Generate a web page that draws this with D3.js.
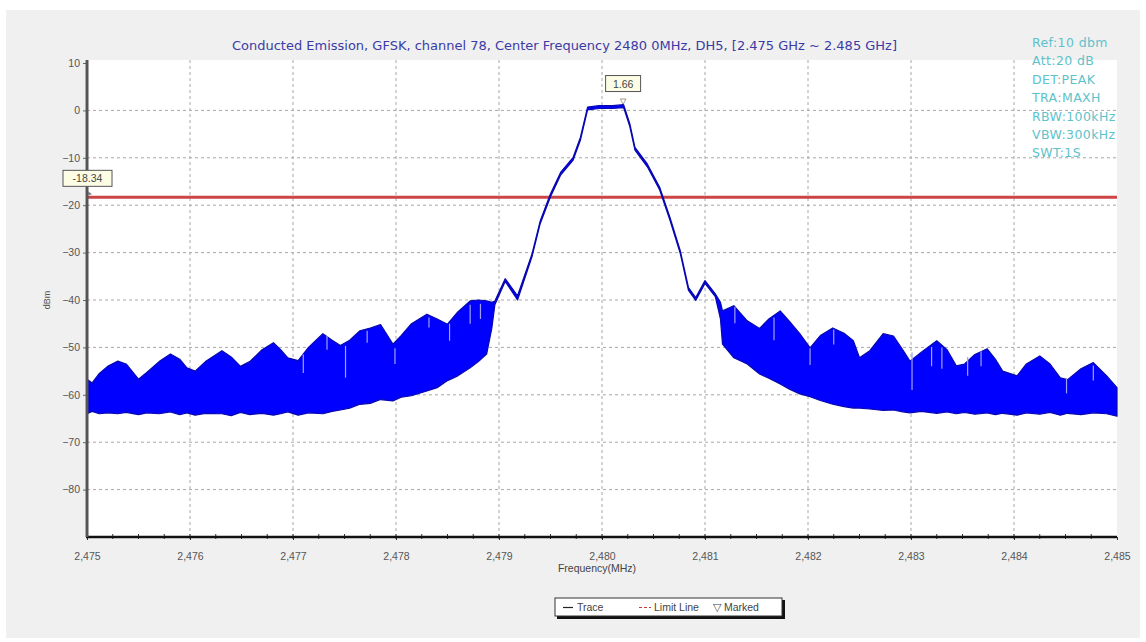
<!DOCTYPE html>
<html>
<head>
<meta charset="utf-8">
<script src="https://cdn.jsdelivr.net/npm/d3@7/dist/d3.min.js"></script>
<style>
  html, body { margin: 0; padding: 0; background: #fff; }
  svg { display: block; font-family: "Liberation Sans", Arial, sans-serif; }
</style>
</head>
<body>
<svg id="chart" width="1146" height="642"></svg>
<script>
// ---- data ----
const title = "Conducted Emission, GFSK, channel 78, Center Frequency 2480 0MHz, DH5, [2.475 GHz ~ 2.485 GHz]";
const infoLines = ["Ref:10 dbm", "Att:20 dB", "DET:PEAK", "TRA:MAXH", "RBW:100kHz", "VBW:300kHz", "SWT:1S"];
const xTicks = [2475, 2476, 2477, 2478, 2479, 2480, 2481, 2482, 2483, 2484, 2485];
const yTicks = [10, 0, -10, -20, -30, -40, -50, -60, -70, -80];

const limitValue = -18.34;
const markerFreq = 2480.2;
const markerValue = 1.66;

// trace envelope (MHz, upper dBm, lower dBm)
const traceFreq = [
  2475.00, 2475.05, 2475.12, 2475.20, 2475.30, 2475.38, 2475.50, 2475.58, 2475.70, 2475.81,
  2475.90, 2475.97, 2476.05, 2476.15, 2476.31, 2476.40, 2476.49, 2476.58, 2476.70, 2476.81,
  2476.88, 2476.95, 2477.05, 2477.15, 2477.29, 2477.38, 2477.46, 2477.55, 2477.65, 2477.75,
  2477.85, 2477.97, 2478.05, 2478.15, 2478.30, 2478.40, 2478.50, 2478.60, 2478.72, 2478.80,
  2478.88, 2478.93, 2478.96, 2479.06, 2479.18, 2479.32, 2479.40, 2479.50, 2479.60, 2479.72,
  2479.79, 2479.86, 2479.97, 2480.10, 2480.21, 2480.27, 2480.32, 2480.44, 2480.56, 2480.66,
  2480.76, 2480.84, 2480.91, 2481.00, 2481.10, 2481.15, 2481.17, 2481.28, 2481.41, 2481.53,
  2481.62, 2481.73, 2481.82, 2481.92, 2482.02, 2482.12, 2482.24, 2482.35, 2482.44, 2482.50,
  2482.60, 2482.73, 2482.83, 2482.92, 2482.99, 2483.10, 2483.25, 2483.35, 2483.44, 2483.52,
  2483.62, 2483.74, 2483.82, 2483.89, 2484.03, 2484.12, 2484.25, 2484.35, 2484.45, 2484.52,
  2484.65, 2484.77, 2484.90, 2485.00
];
const traceUpper = [
  -56.7, -57.5, -55.5, -54.0, -52.9, -53.5, -56.7, -55.3, -53.0, -51.4,
  -52.5, -54.3, -55.0, -53.0, -50.7, -52.0, -54.0, -53.0, -50.5, -49.0,
  -50.5, -52.2, -52.8, -50.0, -47.1, -48.5, -49.6, -48.5, -46.5, -45.9,
  -45.2, -49.3, -47.5, -45.0, -43.0, -44.0, -45.1, -42.5, -40.2, -40.0,
  -40.2, -40.5, -40.2, -35.5, -39.1, -30.3, -23.3, -17.6, -13.0, -9.9,
  -5.7, 0.7, 1.0, 1.0, 1.2, -2.8, -7.8, -11.3, -16.2, -22.6,
  -29.6, -37.4, -39.5, -35.9, -38.7, -40.5, -42.3, -41.2, -44.4, -46.0,
  -44.0, -42.3, -44.5, -47.1, -50.1, -47.5, -45.9, -47.0, -48.6, -52.2,
  -50.7, -47.1, -47.6, -50.5, -52.9, -51.0, -48.6, -50.5, -53.9, -53.5,
  -51.5, -50.3, -52.5, -55.0, -56.0, -53.5, -51.8, -53.5, -56.4, -56.8,
  -54.5, -53.2, -56.0, -58.5
];
const traceLower = [
  -64.0, -63.5, -64.0, -63.8, -64.0, -63.7, -64.2, -63.8, -64.0, -63.6,
  -64.2, -63.8, -64.3, -63.9, -64.0, -64.4, -63.7, -64.2, -63.9, -64.3,
  -64.0, -63.6, -64.3, -63.8, -64.0, -63.5, -63.2, -62.8, -62.0, -61.8,
  -61.0, -61.3, -60.5, -60.2, -59.2, -58.5, -57.0, -56.0, -54.3, -53.0,
  -51.4, -46.0, -41.0, -36.1, -40.0, -30.9, -23.9, -18.2, -13.6, -10.5,
  -6.3, 0.1, 0.4, 0.4, 0.6, -3.4, -8.4, -11.9, -16.8, -23.2,
  -30.2, -38.0, -40.1, -36.5, -39.3, -44.0, -49.3, -52.2, -53.5, -55.6,
  -56.5, -57.7, -58.8, -59.8, -60.4, -61.2, -62.0, -62.5, -62.8, -62.8,
  -63.0, -63.3, -63.2, -63.6, -63.8, -63.5, -63.9, -63.6, -64.0, -63.7,
  -64.1, -63.8, -64.2, -63.9, -64.3, -63.8, -64.1, -63.7, -64.3, -63.9,
  -64.2, -63.8, -64.0, -64.5
];

// light drop-outs visible inside the noise band
const notchFreq = [2477.10, 2477.33, 2477.51, 2477.72, 2477.99, 2478.32, 2478.52, 2478.72, 2478.82,
                   2481.29, 2481.67, 2482.02, 2482.25, 2483.01, 2483.20, 2483.30, 2483.55, 2483.68, 2484.51, 2484.77];
const notchTop =    [-51.5, -47.6, -49.7, -46.5, -50.2, -43.7, -45.0, -41.0, -40.8,
                     -41.5, -43.7, -50.2, -46.2, -51.0, -49.9, -50.0, -52.0, -50.8, -56.5, -53.8];
const notchBottom = [-55.4, -50.5, -56.4, -49.0, -53.5, -45.8, -48.6, -45.0, -44.0,
                     -44.9, -48.5, -53.7, -49.4, -59.0, -54.0, -54.5, -56.0, -54.0, -59.7, -57.0];

// ---- layout ----
const svg = d3.select("#chart");
const x = d3.scaleLinear().domain([2475, 2485]).range([87, 1117]);
const y = d3.scaleLinear().domain([-90, 10]).range([537, 63]);

// gray panel + white plot
svg.append("rect").attr("x", 6).attr("y", 10).attr("width", 1134).attr("height", 628).attr("fill", "#f0f0f0");
svg.append("rect").attr("x", 85).attr("y", 60).attr("width", 1032).attr("height", 477).attr("fill", "#fff");

// grid
const grid = svg.append("g").attr("stroke", "#a8a8a8").attr("stroke-width", 1).attr("stroke-dasharray", "3,3");
grid.selectAll("line.h").data(yTicks.filter(v => v < 10)).join("line")
  .attr("x1", x(2475)).attr("x2", x(2485)).attr("y1", d => y(d)).attr("y2", d => y(d));
grid.selectAll("line.v").data(xTicks.slice(1, -1)).join("line")
  .attr("x1", d => x(d)).attr("x2", d => x(d)).attr("y1", 60).attr("y2", y(-90));

// limit line
svg.append("line")
  .attr("x1", x(2475)).attr("x2", x(2485))
  .attr("y1", y(limitValue)).attr("y2", y(limitValue))
  .attr("stroke", "#cc4444").attr("stroke-width", 3);

// trace
const area = d3.area()
  .x((d, i) => x(traceFreq[i]))
  .y0((d, i) => y(traceLower[i]))
  .y1((d, i) => y(traceUpper[i]));
svg.append("path").datum(traceFreq)
  .attr("d", area)
  .attr("fill", "#0000ff")
  .attr("stroke", "#0808b0").attr("stroke-width", 1.2).attr("stroke-linejoin", "round");

svg.append("g").selectAll("line").data(notchFreq).join("line")
  .attr("x1", d => x(d)).attr("x2", d => x(d))
  .attr("y1", (d, i) => y(notchTop[i])).attr("y2", (d, i) => y(notchBottom[i]))
  .attr("stroke", "#a0a0ff").attr("stroke-width", 1.2);

// axes
const xAxis = d3.axisBottom(x).tickValues(xTicks).tickFormat(d3.format(",")).tickSize(3).tickPadding(13);
const gx = svg.append("g").attr("transform", `translate(0,${y(-90)})`).call(xAxis);
gx.select(".domain").remove();
gx.selectAll("line").attr("stroke", "#333");
gx.selectAll("text").attr("fill", "#555").style("font-size", "10.5px");

svg.append("g").selectAll("line").data(d3.range(2475.25, 2485, 0.25)).join("line")
  .attr("x1", d => x(d)).attr("x2", d => x(d))
  .attr("y1", y(-90) - 3).attr("y2", y(-90) + 2)
  .attr("stroke", "#333").attr("stroke-width", 1);

const yAxis = d3.axisLeft(y).tickValues(yTicks).tickSize(4).tickPadding(3);
const gy = svg.append("g").attr("transform", `translate(${x(2475)},0)`).call(yAxis);
gy.select(".domain").remove();
gy.selectAll("line").attr("stroke", "#666");
gy.selectAll("text").attr("fill", "#555").style("font-size", "10.5px");

svg.append("line").attr("x1", x(2475) - 1).attr("x2", x(2485))
  .attr("y1", y(-90)).attr("y2", y(-90)).attr("stroke", "#111").attr("stroke-width", 2.5);
svg.append("line").attr("x1", x(2475)).attr("x2", x(2475))
  .attr("y1", 60).attr("y2", y(-90)).attr("stroke", "#555").attr("stroke-width", 3);

// axis titles
svg.append("text").attr("x", (x(2475) + x(2485)) / 2 - 5).attr("y", 572)
  .attr("text-anchor", "middle").attr("fill", "#444").style("font-size", "10.5px").text("Frequency(MHz)");
svg.append("text").attr("transform", `translate(50,${y(-40)}) rotate(-90)`)
  .attr("text-anchor", "middle").attr("fill", "#555").style("font-size", "9px").text("dBm");

// title
svg.append("text").attr("x", 232).attr("y", 50)
  .attr("textLength", 665).attr("lengthAdjust", "spacingAndGlyphs")
  .attr("fill", "#3b3ba6").style("font-family", "'DejaVu Sans', sans-serif").style("font-size", "12px").text(title);

// instrument settings
svg.append("g").selectAll("text").data(infoLines).join("text")
  .attr("x", 1032).attr("y", (d, i) => 47 + i * 18.4)
  .attr("fill", "#5ec2ca").style("font-family", "'DejaVu Sans', sans-serif")
  .style("font-size", "12.5px").style("letter-spacing", "0.4px").text(d => d);

// limit label
const limY = y(limitValue);
svg.append("rect").attr("x", 63).attr("y", limY - 27).attr("width", 49).attr("height", 16)
  .attr("fill", "#fdfde6").attr("stroke", "#555").attr("stroke-width", 1);
svg.append("text").attr("x", 87.5).attr("y", limY - 15).attr("text-anchor", "middle")
  .attr("fill", "#444").style("font-size", "10.5px").text(limitValue.toFixed(2));
svg.append("path").attr("d", `M${x(2475) + 1},${limY - 6} l4,3 l-4,1 z`).attr("fill", "#777");

// marker
const mx = x(markerFreq), my = y(markerValue);
svg.append("rect").attr("x", mx - 17).attr("y", my - 27).attr("width", 35).attr("height", 16)
  .attr("fill", "#fdfde6").attr("stroke", "#555").attr("stroke-width", 1);
svg.append("text").attr("x", mx + 0.5).attr("y", my - 15).attr("text-anchor", "middle")
  .attr("fill", "#444").style("font-size", "10.5px").text(markerValue.toFixed(2));
svg.append("text").attr("x", mx).attr("y", my + 1).attr("text-anchor", "middle")
  .attr("fill", "#333").style("font-size", "8px").text("\u25BD");

// legend
const lg = svg.append("g").attr("transform", "translate(555,598)");
lg.append("rect").attr("x", 2).attr("y", 2).attr("width", 228).attr("height", 19).attr("fill", "#111");
lg.append("rect").attr("x", 0).attr("y", 0).attr("width", 227).attr("height", 18)
  .attr("fill", "#fff").attr("stroke", "#333").attr("stroke-width", 1);
lg.append("line").attr("x1", 8).attr("x2", 18).attr("y1", 9.5).attr("y2", 9.5).attr("stroke", "#222").attr("stroke-width", 1.2);
lg.append("text").attr("x", 22).attr("y", 13).attr("fill", "#444").style("font-size", "10.5px").text("Trace");
lg.append("line").attr("x1", 84).attr("x2", 96).attr("y1", 9.5).attr("y2", 9.5)
  .attr("stroke", "#c04040").attr("stroke-width", 1.2).attr("stroke-dasharray", "3,2");
lg.append("text").attr("x", 99).attr("y", 13).attr("fill", "#444").style("font-size", "10.5px").text("Limit Line");
lg.append("text").attr("x", 158).attr("y", 13).attr("fill", "#444").style("font-size", "10.5px").text("\u25BD Marked");
</script>
</body>
</html>
